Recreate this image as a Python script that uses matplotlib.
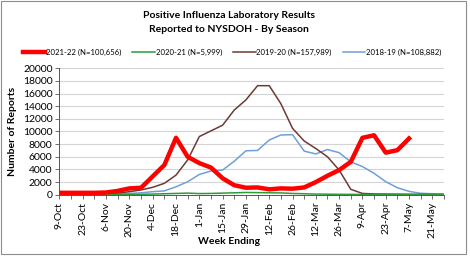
import matplotlib
matplotlib.use('Agg')
import matplotlib.pyplot as plt
from matplotlib.patches import Rectangle

# Semanas (fin de semana) desde 9-Oct hasta 28-May
semanas = ['9-Oct', '16-Oct', '23-Oct', '30-Oct', '6-Nov', '13-Nov', '20-Nov', '27-Nov',
           '4-Dec', '11-Dec', '18-Dec', '25-Dec', '1-Jan', '8-Jan', '15-Jan', '22-Jan',
           '29-Jan', '5-Feb', '12-Feb', '19-Feb', '26-Feb', '5-Mar', '12-Mar', '19-Mar',
           '26-Mar', '2-Apr', '9-Apr', '16-Apr', '23-Apr', '30-Apr', '7-May', '14-May',
           '21-May', '28-May']

# Valores
s2122 = [300, 300, 300, 300, 350, 600, 1000, 1100, 2900, 4700, 9000, 6000, 5000, 4300,
         2600, 1500, 1100, 1150, 850, 1000, 950, 1150, 2000, 3000, 3900, 5200, 9000, 9400,
         6650, 7050, 8900]
s2021 = [30, 30, 30, 30, 30, 30, 40, 60, 100, 150, 200, 250, 180, 200, 250, 300, 350,
         330, 300, 280, 200, 150, 100, 80, 60, 50, 40, 30, 30, 30, 30, 30, 30, 30]
s1920 = [200, 200, 200, 200, 200, 250, 480, 750, 1170, 1800, 3100, 5500, 9200, 10100,
         11000, 13400, 15000, 17250, 17250, 14400, 10500, 8500, 7300, 6000, 3900, 850,
         200, 120, 100, 80, 60, 50, 40, 30]
s1819 = [150, 150, 150, 150, 150, 150, 200, 300, 480, 600, 1250, 2050, 3200, 3750, 3900,
         5300, 6950, 7000, 8650, 9450, 9500, 6900, 6450, 7150, 6650, 5200, 4450, 3380,
         2060, 1100, 530, 220, 150, 100]

etiquetas = ['2021-22 (N=100,656)', '2020-21 (N=5,999)', '2019-20 (N=157,989)', '2018-19 (N=108,882)']
colores = ['#ff0000', '#2e9b3a', '#6e3a36', '#6f9fd8']

plt.rcParams['font.family'] = ['Lato', 'DejaVu Sans']

fig = plt.figure(figsize=(4.7, 2.57), dpi=100)
ax = fig.add_axes([59.5 / 470, 1 - 194.7 / 257, (444 - 59.5) / 470, (194.7 - 68.3) / 257])

x = list(range(len(semanas)))
ax.plot(x[:len(s2122)], s2122, color=colores[0], lw=3.2, label=etiquetas[0], zorder=5)
ax.plot(x, s2021, color=colores[1], lw=1.1, label=etiquetas[1], zorder=4)
ax.plot(x, s1920, color=colores[2], lw=1.1, label=etiquetas[2], zorder=3)
ax.plot(x, s1819, color=colores[3], lw=1.1, label=etiquetas[3], zorder=2)

ax.set_xlim(0, len(semanas) - 1)
ax.set_ylim(0, 20000)
ax.set_yticks(range(0, 20001, 2000))
ax.set_yticklabels([str(v) for v in range(0, 20001, 2000)], fontsize=7.5)
ax.set_xticks(x, minor=True)
ax.set_xticks(x[::2])
ax.set_xticklabels(semanas[::2], rotation=90, fontsize=7.5)
ax.tick_params(axis='x', which='both', length=3, width=0.6, color='#555555', pad=2)
ax.tick_params(axis='y', length=3, width=0.6, color='#555555', pad=2)
ax.grid(axis='y', color='#d4d4d4', lw=0.8)
ax.set_axisbelow(True)
for lado in ['top', 'right']:
    ax.spines[lado].set_visible(False)
ax.spines['left'].set_color('#555555')
ax.spines['bottom'].set_color('#555555')
ax.spines['left'].set_linewidth(0.7)
ax.spines['bottom'].set_linewidth(0.7)

ax.set_ylabel('Number of Reports', fontsize=7.5, fontweight='bold', labelpad=4)
fig.text(229 / 470, 1 - 242 / 257, 'Week Ending', ha='center', va='center',
         fontsize=7.5, fontweight='bold')

fig.text(229 / 470, 1 - 15 / 257, 'Positive Influenza Laboratory Results',
         ha='center', va='center', fontsize=7.5, fontweight='bold')
fig.text(229 / 470, 1 - 29 / 257, 'Reported to NYSDOH - By Season',
         ha='center', va='center', fontsize=7.5, fontweight='bold')

fig.legend(loc='center', bbox_to_anchor=(232 / 470, 1 - 52 / 257), ncol=4, fontsize=5.6,
           frameon=False, handlelength=2.9, handletextpad=0.1, columnspacing=1.4,
           borderpad=0, borderaxespad=0)

fig.patches.append(Rectangle((0.003, 0.012), 0.988, 0.984, transform=fig.transFigure,
                             fill=False, edgecolor='#8c8c8c', lw=0.8))

fig.savefig('out.png', dpi=100)
